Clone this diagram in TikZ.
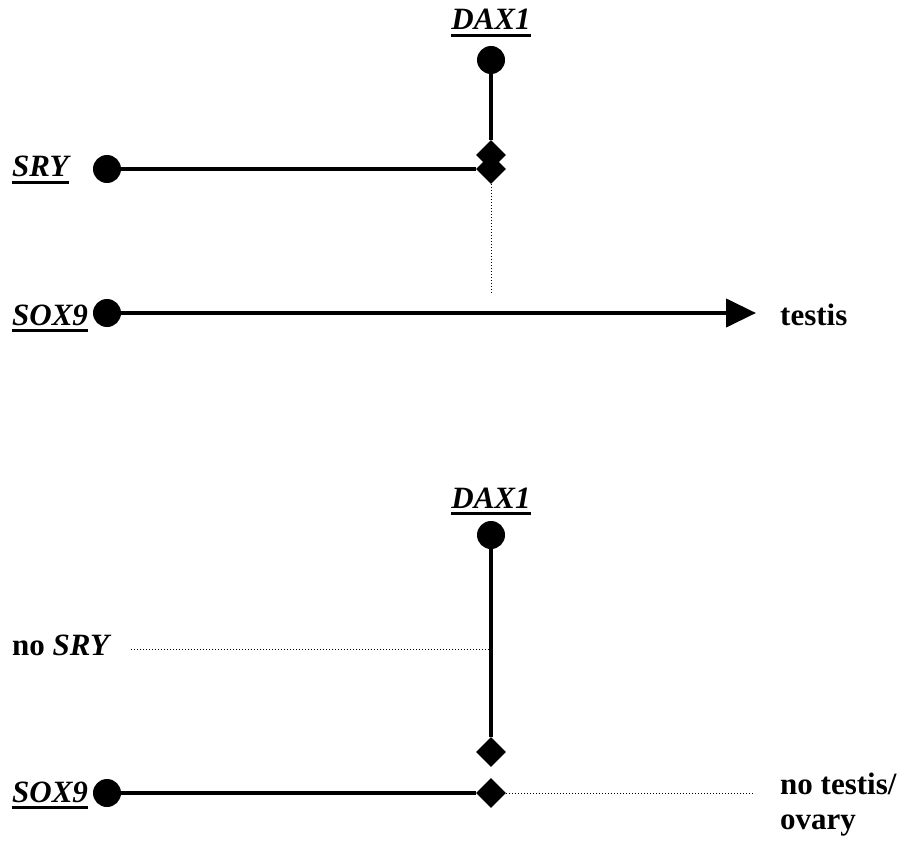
\documentclass[tikz,border=0pt]{standalone}
\usepackage{fontspec}
\setmainfont{Liberation Serif}
\usetikzlibrary{arrows.meta,positioning,shapes.geometric}

\begin{document}
\begin{tikzpicture}[x=1pt, y=-1pt, font=\fontsize{31}{35}\selectfont\bfseries,
	gene/.style={font=\fontsize{31}{35}\selectfont\bfseries\itshape, inner sep=0pt},
	texte/.style={inner sep=0pt, align=left},
	bout/.style={circle, fill, inner sep=0pt, minimum size=28pt},
	losange/.style={diamond, fill, inner sep=0pt, minimum size=30pt},
	trait/.style={line width=4.3pt},
	pointille/.style={dotted, line width=1pt},
	souligne/.style={line width=3pt}]
	\useasboundingbox (0,0) rectangle (904,845);
	
	% Haut : avec SRY
	\node[gene, anchor=base] (daxA) at (491,30) {DAX1};
	\node[gene, anchor=base west] (sryA) at (12,177) {SRY};
	\node[gene, anchor=base west] (soxA) at (12,325) {SOX9};
	\node[bout] (daxpA) at (491,60) {};
	\node[bout] (srypA) at (107,169) {};
	\node[bout] (soxpA) at (107,313) {};
	\node[losange] (losA) at (491,155) {};
	\node[losange] (losB) at (491,169) {};
	\node[texte, anchor=base west] (testis) at (780,325) {testis};
	\coordinate (pointe) at (756,313);
	\coordinate (finA) at (491,295);
	
	\draw[trait] (daxpA) -- (losA);
	\draw[trait] (srypA) -- (losB);
	\draw[pointille] (losB.south) -- (finA);
	\draw[trait, -{Triangle[length=30pt, width=28pt]}] (soxpA) -- (pointe);
	
	% Bas : sans SRY
	\node[gene, anchor=base] (daxB) at (491,508) {DAX1};
	\node[texte, anchor=base west] (nosry) at (12,655) {no \textit{SRY}};
	\node[gene, anchor=base west] (soxB) at (12,802) {SOX9};
	\node[bout] (daxpB) at (491,535) {};
	\node[bout] (soxpB) at (107,793) {};
	\node[losange] (losC) at (491,752) {};
	\node[losange] (losD) at (491,793) {};
	\node[texte, anchor=base west] (ovaire) at (780,829) {no testis/\\ovary};
	\coordinate (debSRY) at (131,649);
	\coordinate (finB) at (754,793);
	
	\draw[trait] (daxpB) -- (losC);
	\draw[trait] (soxpB) -- (losD);
	\draw[pointille] (debSRY) -- (daxpB |- debSRY);
	\draw[pointille] (losD.east) -- (finB);
	
	% Soulignements
	\foreach \n in {daxA,sryA,soxA,daxB,soxB}
		\draw[souligne] ([yshift=-5.5pt]\n.base west) -- ([yshift=-5.5pt]\n.base east);
\end{tikzpicture}
\end{document}
